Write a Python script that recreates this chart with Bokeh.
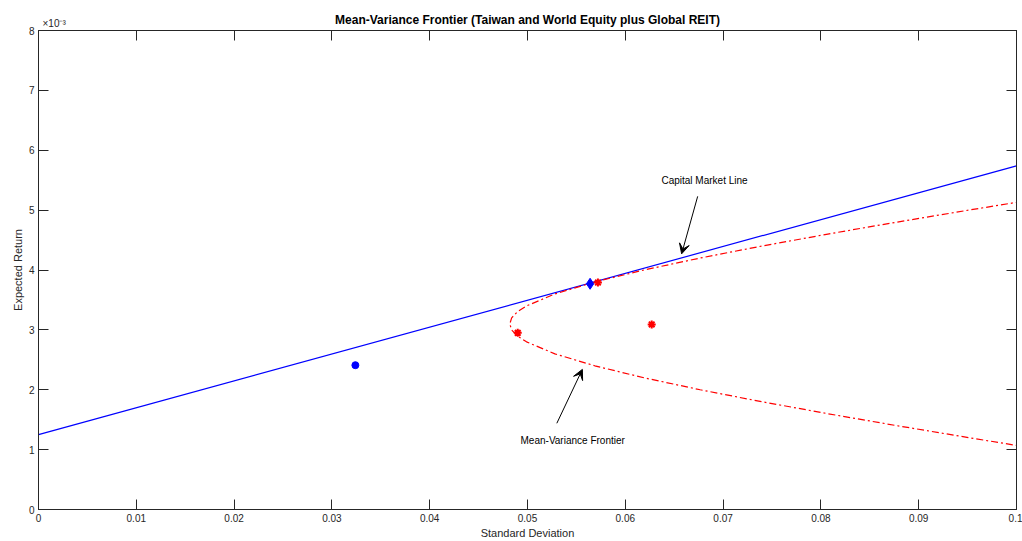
from bokeh.plotting import figure
from bokeh.models import (Range1d, FixedTicker, CustomJSTickFormatter, LinearAxis,
                          Label, Arrow, VeeHead)
from bokeh.embed import file_html
from bokeh.resources import INLINE

# ---- data ----
# Capital Market Line end points (sigma, expected return)
cml_sigma = [0.0, 0.1]
cml_return = [0.00125, 0.00574]

# Mean-variance frontier (sigma, expected return)
frontier_return = [0.0010, 0.0012, 0.0014, 0.0016, 0.0018, 0.0020, 0.0022, 0.0024,
                   0.0026, 0.0028, 0.0029, 0.0030, 0.0031, 0.0032, 0.0033, 0.0034,
                   0.0036, 0.0038, 0.0040, 0.0042, 0.0044, 0.0046, 0.0048, 0.0050,
                   0.0052]
frontier_sigma = [0.10265, 0.09512, 0.08778, 0.08071, 0.07396, 0.06765, 0.06190, 0.05688,
                  0.05280, 0.04990, 0.04895, 0.04838, 0.04819, 0.04838, 0.04895, 0.04990,
                  0.05280, 0.05688, 0.06190, 0.06765, 0.07396, 0.08071, 0.08778, 0.09512,
                  0.10265]

# Individual assets (red stars)
asset_sigma = [0.0572, 0.0490, 0.0627]
asset_return = [0.00379, 0.00295, 0.00309]

# Tangency portfolio (blue diamond)
tangency_sigma = [0.0564]
tangency_return = [0.00377]

# Other portfolio (blue circle)
other_sigma = [0.0324]
other_return = [0.00241]

x_ticks = [0.0, 0.01, 0.02, 0.03, 0.04, 0.05, 0.06, 0.07, 0.08, 0.09, 0.1]
y_ticks = [0.0, 0.001, 0.002, 0.003, 0.004, 0.005, 0.006, 0.007, 0.008]

TITLE = "Mean-Variance Frontier (Taiwan and World Equity plus Global REIT)"
FONT = "Liberation Sans"
TXT = "#262626"

p = figure(width=1022, height=541, output_backend="svg", toolbar_location=None,
           x_range=Range1d(0, 0.1), y_range=Range1d(0, 0.008),
           min_border_left=38, min_border_right=6, min_border_top=30, min_border_bottom=31)

p.xgrid.visible = False
p.ygrid.visible = False
p.outline_line_color = TXT
p.background_fill_color = "white"
p.border_fill_color = "white"

def style_axis(ax, labels=True):
    ax.major_tick_in = 10
    ax.major_tick_out = 0
    ax.minor_tick_line_color = None
    ax.axis_line_color = TXT
    ax.major_tick_line_color = TXT
    ax.major_label_text_font = FONT
    ax.major_label_text_font_size = "10px"
    ax.major_label_text_color = TXT
    ax.axis_label_text_font = FONT
    ax.axis_label_text_font_size = "11px"
    ax.axis_label_text_font_style = "normal"
    ax.axis_label_text_color = TXT
    if not labels:
        ax.formatter = CustomJSTickFormatter(code="return ''")
        ax.major_label_standoff = 0

xa = p.xaxis[0]
ya = p.yaxis[0]
xa.ticker = FixedTicker(ticks=x_ticks)
ya.ticker = FixedTicker(ticks=y_ticks)
style_axis(xa)
style_axis(ya)
xa.formatter = CustomJSTickFormatter(code="return tick == 0 ? '0' : String(Number(tick.toFixed(2)))")
ya.formatter = CustomJSTickFormatter(code="return String(Math.round(tick * 1000))")
xa.axis_label = "Standard Deviation"
ya.axis_label = "Expected Return"
xa.major_label_standoff = 4
ya.major_label_standoff = 4
xa.axis_label_standoff = 2
ya.axis_label_standoff = 2

top = LinearAxis(ticker=FixedTicker(ticks=x_ticks))
right = LinearAxis(ticker=FixedTicker(ticks=y_ticks))
style_axis(top, labels=False)
style_axis(right, labels=False)
p.add_layout(top, "above")
p.add_layout(right, "right")

# Exponent marker (x10^-3) and the chart title, both carried by an unmarked top axis
exp_axis = LinearAxis(ticker=FixedTicker(ticks=[0.0016]),
                      formatter=CustomJSTickFormatter(code="return '\\u00d710\\u207b\\u00b3'"))
exp_axis.axis_line_color = None
exp_axis.major_tick_line_color = None
exp_axis.minor_tick_line_color = None
exp_axis.major_tick_in = 0
exp_axis.major_tick_out = 0
exp_axis.major_label_standoff = 2
exp_axis.major_label_text_font = FONT
exp_axis.major_label_text_font_size = "10px"
exp_axis.major_label_text_color = TXT
exp_axis.axis_label = TITLE
exp_axis.axis_label_text_font = FONT
exp_axis.axis_label_text_font_size = "12px"
exp_axis.axis_label_text_font_style = "bold"
exp_axis.axis_label_text_color = "black"
exp_axis.axis_label_standoff = -12
p.add_layout(exp_axis, "above")

# Capital Market Line
p.line(cml_sigma, cml_return, line_color="#0000FF", line_width=1.2)
# Frontier
p.line(frontier_sigma, frontier_return, line_color="#FF0000", line_width=1.2,
       line_dash="7 3 2 3")
# Markers
p.scatter(asset_sigma, asset_return, marker="asterisk", size=8, line_width=2,
          line_color="#FF0000")
p.scatter(tangency_sigma, tangency_return, marker="diamond", size=11,
          fill_color="#0000FF", line_color="#0000FF")
p.scatter(other_sigma, other_return, marker="circle", size=7,
          fill_color="#0000FF", line_color="#0000FF")

# Annotations
p.add_layout(Label(x=0.0681, y=0.00550, text="Capital Market Line", text_font=FONT,
                   text_font_size="10px", text_color="black", text_align="center",
                   text_baseline="middle"))
p.add_layout(Label(x=0.05462, y=0.001156, text="Mean-Variance Frontier", text_font=FONT,
                   text_font_size="10px", text_color="black", text_align="center",
                   text_baseline="middle"))
p.add_layout(Arrow(end=VeeHead(size=10, fill_color="black", line_color="black"),
                   x_start=0.0674, y_start=0.00523, x_end=0.06576, y_end=0.00427,
                   line_color="black", line_width=1))
p.add_layout(Arrow(end=VeeHead(size=10, fill_color="black", line_color="black"),
                   x_start=0.0530, y_start=0.00144, x_end=0.05561, y_end=0.00234,
                   line_color="black", line_width=1))

open("out.html", "w").write(file_html(p, INLINE))
